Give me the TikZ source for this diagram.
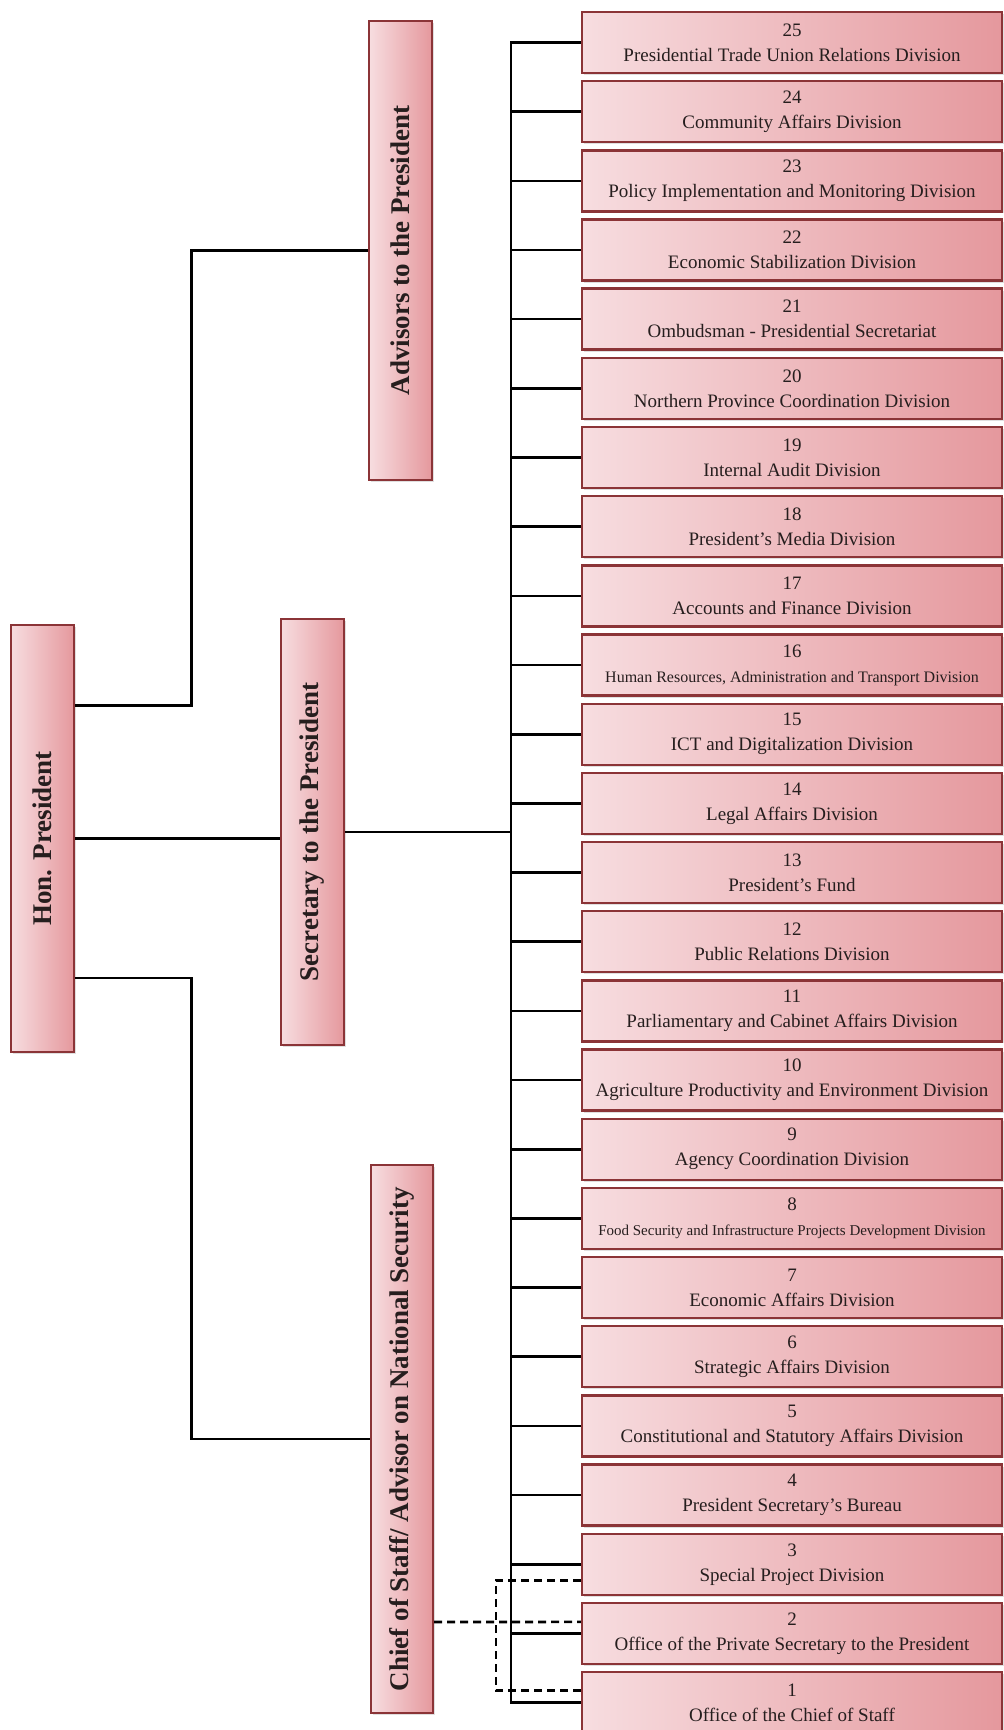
\documentclass[tikz,border=0pt]{standalone}
\usepackage{fontspec}
\setmainfont{Liberation Serif}
\usetikzlibrary{shadows}
\definecolor{boxlight}{RGB}{247,221,224}
\definecolor{boxdark}{RGB}{229,152,157}
\definecolor{boxedge}{RGB}{139,52,55}
\definecolor{inktext}{RGB}{38,30,30}
\tikzset{
		shadedbox/.style={rectangle, draw=boxedge, line width=2.4pt, left color=boxlight, right color=boxdark, text=inktext,
			drop shadow={shadow xshift=1.5pt, shadow yshift=-2pt, opacity=0.25}},
		divbox/.style={shadedbox, minimum width=420pt, minimum height=61pt, align=center, font=\fontsize{19}{25}\selectfont},
		headbox/.style={shadedbox, font=\fontsize{27}{32}\selectfont\bfseries},
		link/.style={line width=2.6pt, black},
		dashlink/.style={link, dash pattern=on 8pt off 5pt}
	}

\begin{document}
\begin{tikzpicture}[x=1pt, y=-1pt]
		\useasboundingbox (0,0) rectangle (1004,1730);
		\node[headbox, minimum width=63pt, minimum height=427pt] (pres) at (42.5,838.5) {\rotatebox{90}{Hon. President}};
		\node[headbox, minimum width=63pt, minimum height=459pt] (adv) at (400.5,250.5) {\rotatebox{90}{Advisors to the President}};
		\node[headbox, minimum width=63pt, minimum height=426pt] (sec) at (312.5,832) {\rotatebox{90}{Secretary to the President}};
		\node[headbox, minimum width=62pt, minimum height=548pt] (cos) at (402,1439) {\rotatebox{90}{Chief of Staff/ Advisor on National Security}};
		\foreach \n/\t in {25/Presidential Trade Union Relations Division, 24/Community Affairs Division,
			23/Policy Implementation and Monitoring Division, 22/Economic Stabilization Division,
			21/Ombudsman - Presidential Secretariat, 20/Northern Province Coordination Division,
			19/Internal Audit Division, 18/President's Media Division, 17/Accounts and Finance Division,
			16/{\fontsize{16}{25}\selectfont Human Resources, Administration and Transport Division},
			15/ICT and Digitalization Division, 14/Legal Affairs Division, 13/President's Fund,
			12/Public Relations Division, 11/Parliamentary and Cabinet Affairs Division,
			10/Agriculture Productivity and Environment Division, 9/Agency Coordination Division,
			8/{\fontsize{15}{25}\selectfont Food Security and Infrastructure Projects Development Division},
			7/Economic Affairs Division, 6/Strategic Affairs Division, 5/Constitutional and Statutory Affairs Division,
			4/President Secretary's Bureau, 3/Special Project Division,
			2/Office of the Private Secretary to the President, 1/Office of the Chief of Staff}
			\node[divbox] (d\n) at (792,{42.5+69.17*(25-\n)}) {\n\\{\t}};
		\coordinate (trunk) at ([xshift=-70pt]d25.west);
		\draw[link] (d25.west) -- (trunk) |- (d1.west);
		\foreach \n in {2,...,24}
			\draw[link] (d\n.west) -- ++(-70,0);
		\draw[link] ([yshift=133pt]pres.east) -- ++(116,0) |- (adv.west);
		\draw[link] (pres.east) -- (pres.east -| sec.west);
		\draw[link] (sec.east) -- (sec.east -| trunk);
		\draw[link] ([yshift=-139.5pt]pres.east) -- ++(116,0) |- (cos.west);
		\draw[dashlink] ([yshift=-183pt]cos.east) -- ([yshift=11.5pt]d2.west);
		\draw[dashlink] ([yshift=-16pt]d3.west) -- ++(-85,0) |- ([yshift=12pt]d1.west);
	\end{tikzpicture}
\end{document}
